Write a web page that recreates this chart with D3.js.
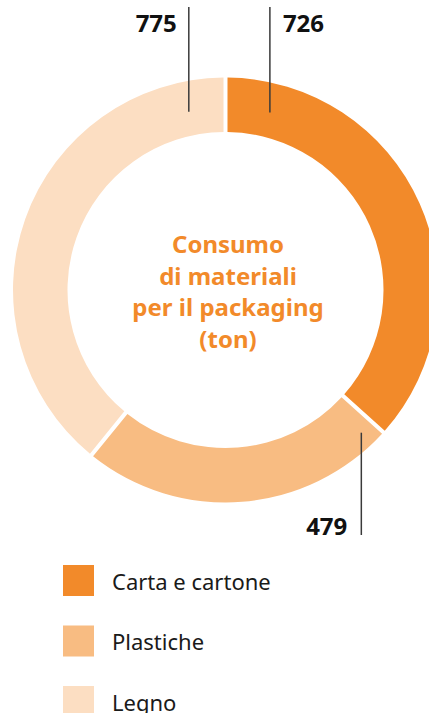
<!DOCTYPE html>
<html>
<head>
<meta charset="utf-8">
<script src="https://cdn.jsdelivr.net/npm/d3@7"></script>
<style>
  html, body { margin: 0; padding: 0; background: #fff; overflow: hidden; }
  svg { display: block; }
  .value-label { font-family: 'Noto Sans', sans-serif; font-weight: 700; font-size: 24px; fill: #111; }
  .center-title { font-family: 'Noto Sans', sans-serif; font-weight: 700; font-size: 24px; fill: #f28a2a; }
  .legend-text { font-family: 'Noto Sans', sans-serif; font-size: 22px; fill: #1a1a1a; }
</style>
</head>
<body>
<svg width="429" height="713"></svg>
<script>
'use strict';

// data
var categories = ['Carta e cartone', 'Plastiche', 'Legno'];
var values = [726, 479, 775];
var colors = ['#f28a2a', '#f8bc82', '#fcdec2'];
var titleLines = ['Consumo', 'di materiali', 'per il packaging', '(ton)'];

// layout
var svg = d3.select('svg'),
    cx = 225.5,
    cy = 290,
    outerR = 212.5,
    innerR = 158;

var chart = svg.append('g').attr('transform', 'translate(' + cx + ',' + cy + ')');

var pie = d3.pie().sort(null).value(function(d) { return d; });
var arcs = pie(values);

var arc = d3.arc()
    .innerRadius(innerR)
    .outerRadius(outerR)
    .padRadius(200)
    .padAngle(0.02);

chart.selectAll('.slice')
    .data(arcs)
    .enter()
    .append('path')
    .attr('class', 'slice')
    .attr('fill', function(d, i) { return colors[i]; })
    .attr('d', arc);

// leader lines: point on the ring (angle offset from slice edge), vertical line to the label
var leaders = [
    {angle: arcs[0].startAngle + 0.245, r: 183, toY: 7, anchor: 'start', dx: 13, ty: 32},
    {angle: arcs[1].startAngle + 0.077, r: 197, toY: 535, anchor: 'end', dx: -14, ty: 535},
    {angle: arcs[2].endAngle - 0.203, r: 182, toY: 7, anchor: 'end', dx: -12, ty: 32}
];

leaders.forEach(function(l, i) {
    var x = Math.sin(l.angle) * l.r,
        y = -Math.cos(l.angle) * l.r;
    chart.append('line')
        .attr('x1', x).attr('y1', y)
        .attr('x2', x).attr('y2', l.toY - cy)
        .attr('stroke', '#3a3a3a')
        .attr('stroke-width', 1.5);
    chart.append('text')
        .attr('class', 'value-label')
        .attr('x', x + l.dx)
        .attr('y', l.ty - cy)
        .attr('text-anchor', l.anchor)
        .text(values[i]);
});

// center title
chart.selectAll('.center-title')
    .data(titleLines)
    .enter()
    .append('text')
    .attr('class', 'center-title')
    .attr('text-anchor', 'middle')
    .attr('x', 2.5)
    .attr('y', function(d, i) { return 253 - cy + i * 31.7; })
    .text(function(d) { return d; });

// legend
var legend = svg.selectAll('.legend-item')
    .data(categories)
    .enter()
    .append('g')
    .attr('class', 'legend-item')
    .attr('transform', function(d, i) { return 'translate(63,' + (565 + i * 60.5) + ')'; });

legend.append('rect')
    .attr('width', 31)
    .attr('height', 31)
    .attr('fill', function(d, i) { return colors[i]; });

legend.append('text')
    .attr('class', 'legend-text')
    .attr('x', 49)
    .attr('y', 24.5)
    .text(function(d) { return d; });
</script>
</body>
</html>
